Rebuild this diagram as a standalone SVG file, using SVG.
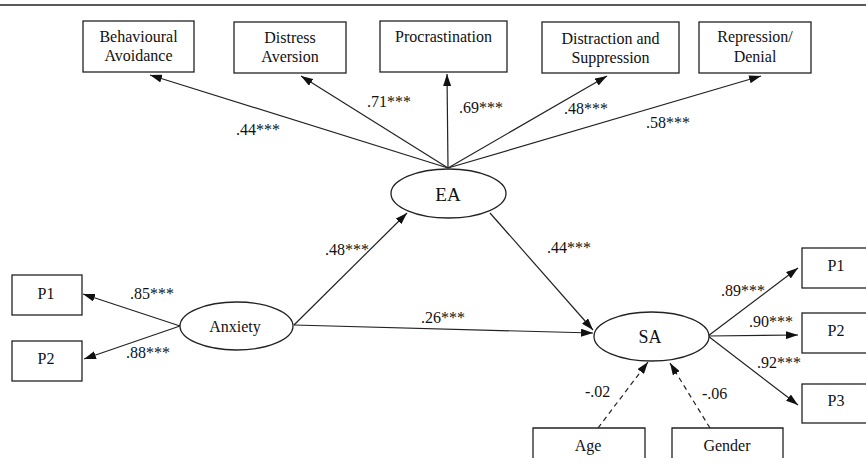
<svg xmlns="http://www.w3.org/2000/svg" width="866" height="465" viewBox="0 0 866 465" font-family="'Liberation Serif', 'DejaVu Serif', serif">
<style>
text{font-family:'Liberation Serif','DejaVu Serif',serif;font-size:16px;fill:#111;}
.t{text-anchor:middle;}
.box{fill:#fff;stroke:#222;stroke-width:1.3;}
.ell{fill:#fff;stroke:#222;stroke-width:1.3;}
.c{fill:none;stroke:#222;stroke-width:1.2;marker-end:url(#ah);}
.d{fill:none;stroke:#222;stroke-width:1.2;stroke-dasharray:5 4;marker-end:url(#ah);}
</style>
<defs>
<marker id="ah" viewBox="0 0 12 8" refX="12" refY="4" markerWidth="12" markerHeight="8" markerUnits="userSpaceOnUse" orient="auto">
<path d="M0,0 L12,4 L0,8 z" fill="#111"/>
</marker>
</defs>
<rect width="866" height="465" fill="#fff"/>
<line x1="0" y1="5" x2="866" y2="5" stroke="#222" stroke-width="1.5"/>

<g id="connectors">
<line class="c" x1="448" y1="168" x2="150" y2="75"/>
<line class="c" x1="448" y1="168" x2="301" y2="76"/>
<line class="c" x1="448" y1="168" x2="447" y2="74"/>
<line class="c" x1="448" y1="168" x2="607" y2="76"/>
<line class="c" x1="448" y1="168" x2="761" y2="76"/>
<line class="c" x1="180" y1="326" x2="83" y2="294"/>
<line class="c" x1="180" y1="326" x2="84" y2="359"/>
<line class="c" x1="294" y1="325" x2="407" y2="213"/>
<line class="c" x1="294" y1="325" x2="593" y2="333"/>
<line class="c" x1="490" y1="213" x2="593" y2="330"/>
<line class="c" x1="708" y1="336" x2="798" y2="268"/>
<line class="c" x1="708" y1="336" x2="798" y2="335"/>
<line class="c" x1="708" y1="336" x2="798" y2="405"/>
<line class="d" x1="598" y1="428" x2="648" y2="362"/>
<line class="d" x1="710" y1="428" x2="670" y2="363"/>
<text x="236" y="135">.44***</text>
<text x="367" y="107">.71***</text>
<text x="459" y="113">.69***</text>
<text x="564" y="114">.48***</text>
<text x="646" y="128">.58***</text>
<text x="130" y="299">.85***</text>
<text x="126" y="358">.88***</text>
<text x="325" y="255">.48***</text>
<text x="421" y="323">.26***</text>
<text x="547" y="253">.44***</text>
<text x="721" y="296">.89***</text>
<text x="749" y="327">.90***</text>
<text x="757" y="368">.92***</text>
<text x="585" y="397">-.02</text>
<text x="702" y="399">-.06</text>
</g>

<g id="behavioural-avoidance">
<rect class="box" x="83" y="21" width="111" height="51"/>
<text class="t" x="138.5" y="42">Behavioural</text>
<text class="t" x="138.5" y="61">Avoidance</text>
</g>
<g id="distress-aversion">
<rect class="box" x="234" y="22" width="112" height="51"/>
<text class="t" x="290" y="43">Distress</text>
<text class="t" x="290" y="62">Aversion</text>
</g>
<g id="procrastination">
<rect class="box" x="380" y="21" width="127" height="51"/>
<text class="t" x="443.5" y="42">Procrastination</text>
</g>
<g id="distraction-suppression">
<rect class="box" x="542" y="22" width="137" height="51"/>
<text class="t" x="610.5" y="44">Distraction and</text>
<text class="t" x="610.5" y="63">Suppression</text>
</g>
<g id="repression-denial">
<rect class="box" x="699" y="22" width="112" height="51"/>
<text class="t" x="755" y="42">Repression/</text>
<text class="t" x="755" y="62">Denial</text>
</g>

<g id="EA">
<ellipse class="ell" cx="448.5" cy="193.5" rx="57.5" ry="24.5"/>
<text class="t" x="448" y="201" style="font-size:19px">EA</text>
</g>
<g id="Anxiety">
<ellipse class="ell" cx="236.5" cy="326" rx="56.5" ry="24"/>
<text class="t" x="235" y="332">Anxiety</text>
</g>
<g id="SA">
<ellipse class="ell" cx="651.5" cy="336.5" rx="57.5" ry="24.5"/>
<text class="t" x="650" y="343" style="font-size:18px">SA</text>
</g>

<g id="anx-P1">
<rect class="box" x="12" y="275" width="70" height="40"/>
<text class="t" x="46" y="299">P1</text>
</g>
<g id="anx-P2">
<rect class="box" x="12" y="341" width="70" height="40"/>
<text class="t" x="46" y="364">P2</text>
</g>

<g id="sa-P1">
<rect class="box" x="802" y="248" width="70" height="40"/>
<text class="t" x="836" y="271">P1</text>
</g>
<g id="sa-P2">
<rect class="box" x="802" y="313" width="70" height="40"/>
<text class="t" x="836" y="336">P2</text>
</g>
<g id="sa-P3">
<rect class="box" x="802" y="384" width="70" height="39"/>
<text class="t" x="836" y="406">P3</text>
</g>

<g id="Age">
<path class="box" d="M533,458 V428 H645 V458"/>
<text class="t" x="588" y="451">Age</text>
</g>
<g id="Gender">
<path class="box" d="M672,458 V428 H783 V458"/>
<text class="t" x="727" y="451">Gender</text>
</g>
</svg>
